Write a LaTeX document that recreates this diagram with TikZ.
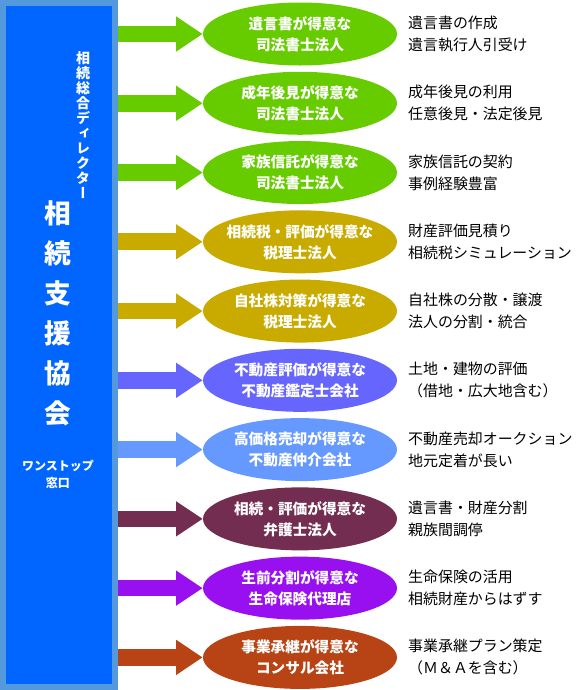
\documentclass[tikz,border=0pt]{standalone}
\usepackage{fontspec}
\setmainfont{Noto Sans CJK JP}
\newfontfamily\vertjp[RawFeature=+vert]{Noto Sans CJK JP}
\usepackage{tikz}
\usetikzlibrary{shapes.geometric,arrows.meta,positioning}

\definecolor{panelblue}{HTML}{0066FF}
\definecolor{panelrim}{HTML}{5599DD}
\definecolor{leafgreen}{HTML}{66CC00}
\definecolor{olive}{HTML}{C9AB00}
\definecolor{violetblue}{HTML}{6666FF}
\definecolor{skyblue}{HTML}{6699FF}
\definecolor{wine}{HTML}{722D50}
\definecolor{purple}{HTML}{9910F0}
\definecolor{rust}{HTML}{B84415}

\begin{document}
\begin{tikzpicture}[
    x=0.75pt, y=-0.75pt,
    node distance=4.3pt and 8pt,
    panel/.style={rectangle, draw=panelrim, fill=panelblue, line width=4.5pt, minimum width=84pt, minimum height=513pt, inner sep=0pt},
    bubble/.style={ellipse, minimum width=145.5pt, minimum height=47.25pt, inner ysep=0pt, inner xsep=-25pt, text=white, align=center, font=\fontsize{11}{15.75}\selectfont\bfseries},
    note/.style={anchor=west, align=left, inner sep=0pt, font=\fontsize{11.2}{16.5}\selectfont},
    fat/.style={line width=12.5pt, -{Triangle[length=20pt, width=25pt]}},
    paneltext/.style={text=white, align=center, inner sep=0pt}
]
\useasboundingbox (0,0) rectangle (580,690);

% Left panel
\node[panel] (panel) at (59,345) {};
\node[paneltext, font=\fontsize{10.5}{11.25}\selectfont\vertjp\bfseries] (role) at (83,125)
    {相\\続\\総\\合\\デ\\ィ\\レ\\ク\\タ\\ー};
\node[paneltext, font=\fontsize{20}{30}\selectfont\bfseries] (name) at (58,313)
    {相\\続\\支\\援\\協\\会};
\node[paneltext, font=\fontsize{9}{12.75}\selectfont\bfseries] (desk) at (58,474)
    {ワンストップ\\窓口};

% Specialists
\node[bubble, fill=leafgreen] (will) at (300,34) {遺言書が得意な\\司法書士法人};
\node[bubble, fill=leafgreen, below=of will] (guard) {成年後見が得意な\\司法書士法人};
\node[bubble, fill=leafgreen, below=of guard] (trust) {家族信託が得意な\\司法書士法人};
\node[bubble, fill=olive, below=of trust] (taxval) {相続税・評価が得意な\\税理士法人};
\node[bubble, fill=olive, below=of taxval] (stock) {自社株対策が得意な\\税理士法人};
\node[bubble, fill=violetblue, below=of stock] (apprais) {不動産評価が得意な\\不動産鑑定士会社};
\node[bubble, fill=skyblue, below=of apprais] (broker) {高価格売却が得意な\\不動産仲介会社};
\node[bubble, fill=wine, below=of broker] (lawyer) {相続・評価が得意な\\弁護士法人};
\node[bubble, fill=purple, below=of lawyer] (insur) {生前分割が得意な\\生命保険代理店};
\node[bubble, fill=rust, below=of insur] (succ) {事業承継が得意な\\コンサル会社};

% Services
\node[note, right=of will] (willtxt) {遺言書の作成\\遺言執行人引受け};
\node[note, right=of guard] (guardtxt) {成年後見の利用\\任意後見・法定後見};
\node[note, right=of trust] (trusttxt) {家族信託の契約\\事例経験豊富};
\node[note, right=of taxval] (taxvaltxt) {財産評価見積り\\相続税シミュレーション};
\node[note, right=of stock] (stocktxt) {自社株の分散・譲渡\\法人の分割・統合};
\node[note, right=of apprais] (appraistxt) {土地・建物の評価\\（借地・広大地含む）};
\node[note, right=of broker] (brokertxt) {不動産売却オークション\\地元定着が長い};
\node[note, right=of lawyer] (lawyertxt) {遺言書・財産分割\\親族間調停};
\node[note, right=of insur] (insurtxt) {生命保険の活用\\相続財産からはずす};
\node[note, right=of succ] (succtxt) {事業承継プラン策定\\（Ｍ＆Ａを含む）};

% Arrows
\draw[fat, leafgreen] (panel.east |- will) -- (will);
\draw[fat, leafgreen] (panel.east |- guard) -- (guard);
\draw[fat, leafgreen] (panel.east |- trust) -- (trust);
\draw[fat, olive] (panel.east |- taxval) -- (taxval);
\draw[fat, olive] (panel.east |- stock) -- (stock);
\draw[fat, violetblue] (panel.east |- apprais) -- (apprais);
\draw[fat, skyblue] (panel.east |- broker) -- (broker);
\draw[fat, wine] (panel.east |- lawyer) -- (lawyer);
\draw[fat, purple] (panel.east |- insur) -- (insur);
\draw[fat, rust] (panel.east |- succ) -- (succ);

\end{tikzpicture}
\end{document}
